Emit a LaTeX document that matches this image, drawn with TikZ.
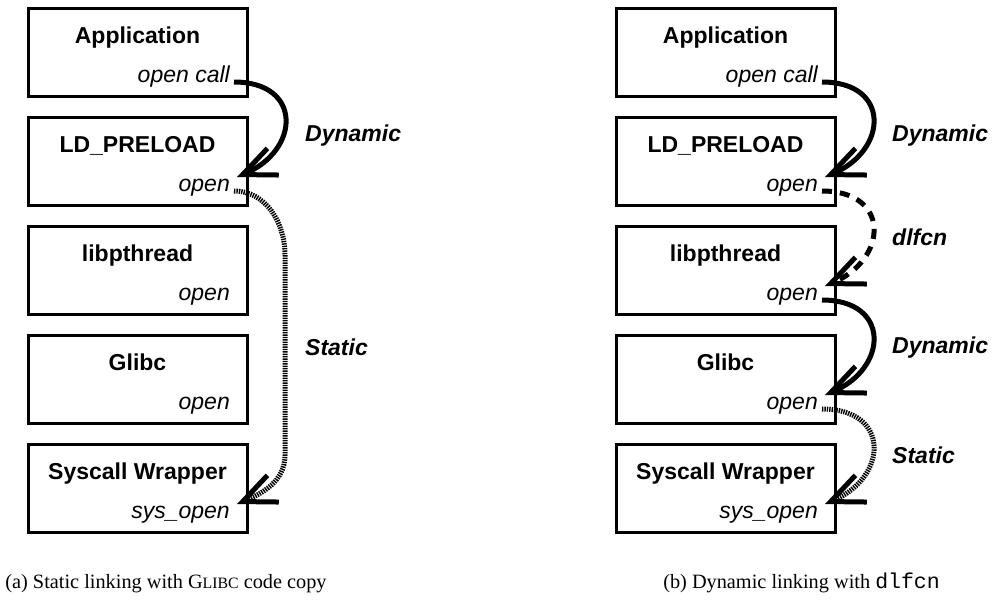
\documentclass[tikz,border=0pt]{standalone}
\usepackage{fontspec}
\setmainfont{Liberation Serif}
\setmonofont{Liberation Mono}
\newfontfamily\arialfont{Liberation Sans}
\usetikzlibrary{arrows.meta,calc}
\begin{document}
\begin{tikzpicture}[x=1pt,y=1pt,
  layer/.style={draw=black, line width=3pt, minimum width=219pt, minimum height=88pt, inner sep=0pt, outer sep=0pt},
  ttl/.style={font=\arialfont\bfseries\fontsize{23}{27}\selectfont, inner sep=0pt, anchor=base},
  fn/.style={font=\arialfont\itshape\fontsize{23}{27}\selectfont, inner sep=0pt, anchor=base east},
  kind/.style={font=\arialfont\bfseries\itshape\fontsize{23}{27}\selectfont, inner sep=0pt, anchor=base west},
  link/.style={line width=5pt, -{Straight Barb[length=33pt,width=29pt,sharp]}},
  dyn/.style={link},
  dl/.style={link, dash pattern=on 10pt off 8pt},
  stat/.style={link, dash pattern=on 1.4pt off 1pt},
  arc/.style={out=0,in=23,looseness=1.85},
  capt/.style={font=\fontsize{20.3}{24}\selectfont, inner sep=0pt, anchor=base}
]
\useasboundingbox (0,0) rectangle (992,-605);

% ---------- left column ----------
\node[layer] (a1) at (137.5,-52) {};
\node[layer] (a2) at (137.5,-161) {};
\node[layer] (a3) at (137.5,-270) {};
\node[layer] (a4) at (137.5,-379) {};
\node[layer] (a5) at (137.5,-488) {};
\node[ttl] (a1t) at ($(a1.north)+(0,-35)$) {Application};
\node[ttl] (a2t) at ($(a2.north)+(0,-35)$) {LD\_PRELOAD};
\node[ttl] (a3t) at ($(a3.north)+(0,-35)$) {libpthread};
\node[ttl] (a4t) at ($(a4.north)+(0,-35)$) {Glibc};
\node[ttl] (a5t) at ($(a5.north)+(0,-35)$) {Syscall Wrapper};
\node[fn] (a1o) at ($(a1.north east)+(-17,-74)$) {open call};
\node[fn] (a2o) at ($(a2.north east)+(-17,-74)$) {open};
\node[fn] (a3o) at ($(a3.north east)+(-17,-74)$) {open};
\node[fn] (a4o) at ($(a4.north east)+(-17,-74)$) {open};
\node[fn] (a5o) at ($(a5.north east)+(-17,-74)$) {sys\_open};
\foreach \n in {a1o,a2o,a3o,a4o,a5o}{
  \coordinate (\n-out) at ($(\n.base east)+(4,0)$);
  \coordinate (\n-in) at ($(\n.base east)+(7,14)$);
}
\coordinate (aw1) at (285,-255);
\coordinate (aw2) at (285,-455);
\draw[dyn] (a1o-out) to[arc] (a2o-in);
\draw[stat] (a2o-out) to[out=0,in=90] (aw1) -- (aw2) to[out=-90,in=23] (a5o-in);
\node[kind] (ak1) at (305,-141) {Dynamic};
\node[kind] (ak2) at (305,-355) {Static};

% ---------- right column ----------
\node[layer] (b1) at (725.5,-52) {};
\node[layer] (b2) at (725.5,-161) {};
\node[layer] (b3) at (725.5,-270) {};
\node[layer] (b4) at (725.5,-379) {};
\node[layer] (b5) at (725.5,-488) {};
\node[ttl] (b1t) at ($(b1.north)+(0,-35)$) {Application};
\node[ttl] (b2t) at ($(b2.north)+(0,-35)$) {LD\_PRELOAD};
\node[ttl] (b3t) at ($(b3.north)+(0,-35)$) {libpthread};
\node[ttl] (b4t) at ($(b4.north)+(0,-35)$) {Glibc};
\node[ttl] (b5t) at ($(b5.north)+(0,-35)$) {Syscall Wrapper};
\node[fn] (b1o) at ($(b1.north east)+(-17,-74)$) {open call};
\node[fn] (b2o) at ($(b2.north east)+(-17,-74)$) {open};
\node[fn] (b3o) at ($(b3.north east)+(-17,-74)$) {open};
\node[fn] (b4o) at ($(b4.north east)+(-17,-74)$) {open};
\node[fn] (b5o) at ($(b5.north east)+(-17,-74)$) {sys\_open};
\foreach \n in {b1o,b2o,b3o,b4o,b5o}{
  \coordinate (\n-out) at ($(\n.base east)+(4,0)$);
  \coordinate (\n-in) at ($(\n.base east)+(7,14)$);
}
\draw[dyn] (b1o-out) to[arc] (b2o-in);
\draw[dl] (b2o-out) to[arc] (b3o-in);
\draw[dyn] (b3o-out) to[arc] (b4o-in);
\draw[stat] (b4o-out) to[arc] (b5o-in);
\node[kind] (bk1) at (892,-141) {Dynamic};
\node[kind] (bk2) at (892,-245) {dlfcn};
\node[kind] (bk3) at (892,-353) {Dynamic};
\node[kind] (bk4) at (892,-463) {Static};

% ---------- captions ----------
\node[capt] (capa) at (166,-588) {(a) Static linking with G{\fontsize{15.8}{18}\selectfont LIBC} code copy};
\node[capt] (capb) at (801.5,-588) {(b) Dynamic linking with {\fontsize{21.5}{24}\selectfont\texttt{dlfcn}}};
\end{tikzpicture}
\end{document}
